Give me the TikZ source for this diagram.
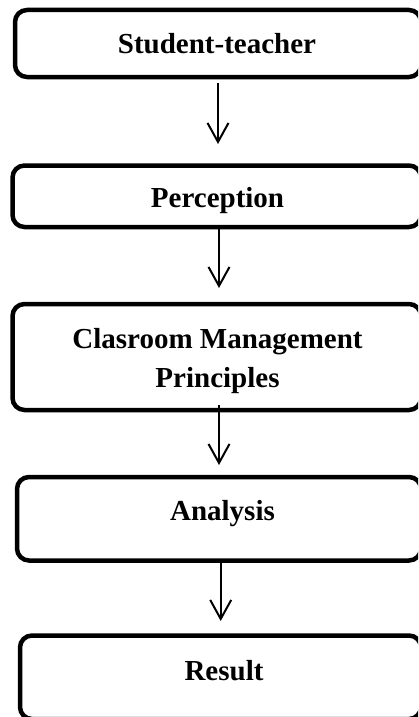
\documentclass[tikz,border=0pt]{standalone}
\usepackage{fontspec}
\setmainfont{Liberation Serif}
\usetikzlibrary{arrows.meta}
\begin{document}
\begin{tikzpicture}[x=1pt,y=-1pt,
  box/.style={draw, line width=4.5pt, rounded corners=12pt, outer sep=0pt, inner sep=0pt},
  lbl/.style={font=\bfseries\fontsize{29}{39}\selectfont, inner sep=0pt, anchor=base, align=center},
  arr/.style={line width=2pt, -{Straight Barb[length=19pt,width=21pt]}}]
\useasboundingbox (0,0) rectangle (418,717);
\clip (0,0) rectangle (418,717);
\fill[white] (0,0) rectangle (418,717);
% boxes
\node[box, minimum width=406pt, minimum height=67pt] (b1) at (218,43.5) {};
\node[box, minimum width=408.5pt, minimum height=61.5pt] (b2) at (216.75,196.25) {};
\node[box, minimum width=408.5pt, minimum height=106pt] (b3) at (216.75,357) {};
\node[box, minimum width=404pt, minimum height=83.5pt] (b4) at (219,518.75) {};
\node[box, minimum width=401pt, minimum height=83.5pt] (b5) at (220.5,677.25) {};
% labels
\node[lbl] (t1) at (217,53) {Student-teacher};
\node[lbl] (t2) at (217.5,207) {Perception};
\node[lbl] (t3) at (217.5,387) {Clasroom Management\\Principles};
\node[lbl] (t4) at (222.5,520) {Analysis};
\node[lbl] (t5) at (224,680) {Result};
% connectors
\draw[arr, shorten <=6pt, shorten >=21.5pt] (b1.south) -- (b1.south |- b2.north);
\draw[arr, shorten >=16pt] ([xshift=2.25pt]b2.south) -- ([xshift=2.25pt]b2.south |- b3.north);
\draw[arr, shorten <=-5pt, shorten >=12pt] ([xshift=2.25pt]b3.south) -- ([xshift=2.25pt]b3.south |- b4.north);
\draw[arr, shorten >=14.5pt] ([xshift=1.7pt]b4.south) -- ([xshift=1.7pt]b4.south |- b5.north);
\end{tikzpicture}
\end{document}
